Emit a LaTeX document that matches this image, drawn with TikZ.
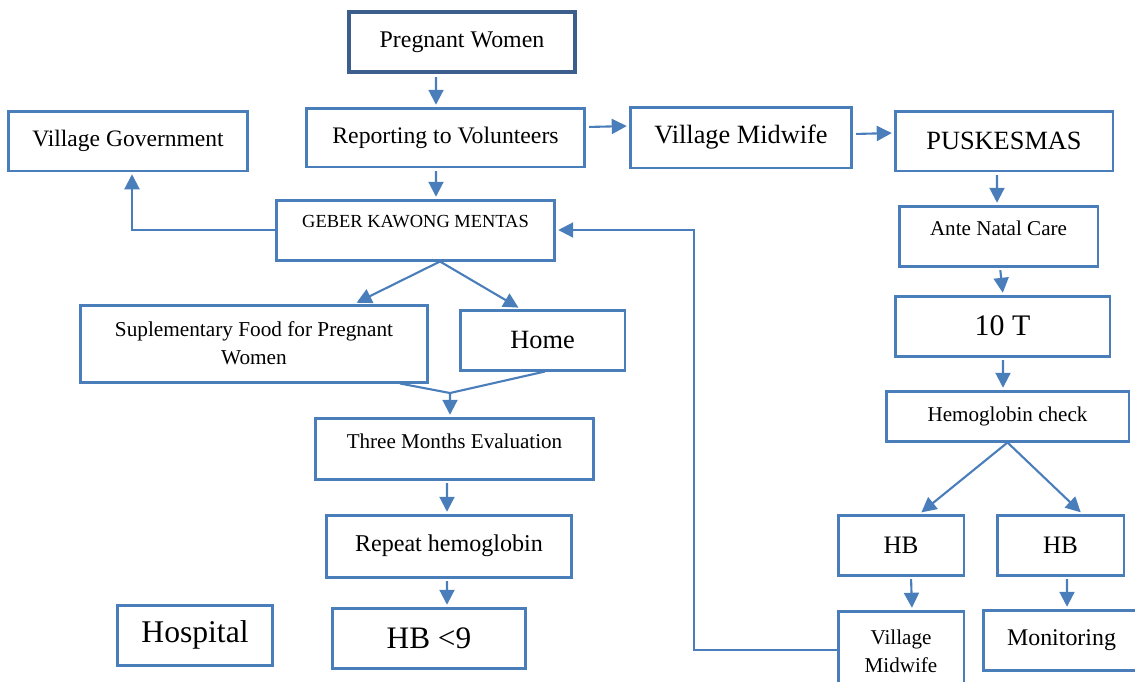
\documentclass[tikz,border=0pt]{standalone}
\usepackage{fontspec}
\setmainfont{Liberation Serif}
\usetikzlibrary{arrows.meta}
\definecolor{boxBlue}{HTML}{4A7EBB}
\definecolor{darkBlue}{HTML}{3B5E8C}

\begin{document}
\begin{tikzpicture}[x=0.02cm, y=-0.02cm]
        \tikzstyle{boxStyle} = [rectangle, draw=boxBlue, fill=white, line width=1.7pt,
                                inner sep=2pt, align=center, text=black]
        \tikzstyle{arrowStyle} = [draw=boxBlue, line width=1.2pt,
                                  -{Triangle[length=0.3cm, width=0.3cm]},
                                  shorten <=1.5pt, shorten >=1pt]
        \useasboundingbox (0,0) rectangle (1135,681);
        % left and middle column
        \node[boxStyle, draw=darkBlue, line width=2.8pt, minimum width=4.52cm, minimum height=1.2cm,
              font=\fontsize{13.6}{16}\selectfont] (preg) at (462,42) {Pregnant Women};
        \node[boxStyle, minimum width=5.58cm, minimum height=1.18cm,
              font=\fontsize{13.5}{16}\selectfont] (report) at (445.5,137.5) {Reporting to Volunteers};
        \node[boxStyle, minimum width=4.8cm, minimum height=1.2cm,
              font=\fontsize{13.4}{16}\selectfont] (vgov) at (128,141) {Village Government};
        \node[boxStyle, minimum width=5.58cm, minimum height=1.2cm, text depth=0.34cm,
              font=\fontsize{10.5}{13}\selectfont] (geber) at (415.5,230) {GEBER KAWONG MENTAS};
        \node[boxStyle, minimum width=6.96cm, minimum height=1.54cm,
              font=\fontsize{12.1}{15.9}\selectfont] (food) at (254,343.5)
              {Suplementary Food for Pregnant\\Women};
        \node[boxStyle, minimum width=3.3cm, minimum height=1.2cm,
              font=\fontsize{15}{18}\selectfont] (home) at (542.5,340) {Home};
        \node[boxStyle, minimum width=5.58cm, minimum height=1.22cm, text depth=0.3cm,
              font=\fontsize{12}{15}\selectfont] (eval) at (454.5,448.5) {Three Months Evaluation};
        \node[boxStyle, minimum width=4.92cm, minimum height=1.24cm,
              font=\fontsize{13.7}{16}\selectfont] (repeat) at (449,546) {Repeat hemoglobin};
        \node[boxStyle, minimum width=3.12cm, minimum height=1.2cm,
              font=\fontsize{18}{21}\selectfont] (hosp) at (195,635) {Hospital};
        \node[boxStyle, minimum width=3.88cm, minimum height=1.2cm,
              font=\fontsize{17.8}{21}\selectfont] (hbLow) at (429,638) {HB <9};
        % right column
        \node[boxStyle, minimum width=4.44cm, minimum height=1.22cm,
              font=\fontsize{15}{18}\selectfont] (midwife) at (741,137.5) {Village Midwife};
        \node[boxStyle, minimum width=4.36cm, minimum height=1.2cm,
              font=\fontsize{15}{18}\selectfont] (pusk) at (1004,141) {PUSKESMAS};
        \node[boxStyle, minimum width=3.98cm, minimum height=1.2cm, text depth=0.33cm,
              font=\fontsize{12}{15}\selectfont] (anc) at (998.5,236) {Ante Natal Care};
        \node[boxStyle, minimum width=4.3cm, minimum height=1.2cm,
              font=\fontsize{17}{20}\selectfont] (tenT) at (1002.5,326) {10 T};
        \node[boxStyle, minimum width=4.86cm, minimum height=1.0cm,
              font=\fontsize{12}{15}\selectfont] (hbCheck) at (1007.5,416) {Hemoglobin check};
        \node[boxStyle, minimum width=2.52cm, minimum height=1.2cm,
              font=\fontsize{14.3}{17}\selectfont] (hbLeft) at (901,545) {HB};
        \node[boxStyle, minimum width=2.54cm, minimum height=1.2cm,
              font=\fontsize{14.3}{17}\selectfont] (hbRight) at (1060.5,545) {HB};
        \node[boxStyle, minimum width=2.52cm, minimum height=1.6cm,
              font=\fontsize{12}{16}\selectfont] (midwifeTwo) at (901,651) {Village\\Midwife};
        \node[boxStyle, minimum width=3.14cm, minimum height=1.2cm,
              font=\fontsize{13.6}{16}\selectfont] (monit) at (1061.5,640) {Monitoring};
        \coordinate (merge) at (450,393);
        % connectors
        \draw[arrowStyle] ([xshift=-0.52cm]preg.south) -- ([xshift=-0.19cm]report.north);
        \draw[arrowStyle] ([yshift=0.21cm]report.east) -- ([yshift=0.23cm]midwife.west);
        \draw[arrowStyle] ([yshift=0.07cm]midwife.east) -- ([yshift=0.16cm]pusk.west);
        \draw[arrowStyle] ([xshift=-0.19cm]report.south) -- ([xshift=0.41cm]geber.north);
        \draw[arrowStyle, shorten <=0pt] (geber.west) -| ([xshift=0.08cm]vgov.south);
        \draw[arrowStyle, shorten <=0pt] ([yshift=0.02cm]midwifeTwo.west) -- ++(-2.86cm,0) |- (geber.east);
        \draw[arrowStyle, shorten <=0pt] ([xshift=0.49cm]geber.south) -- ([xshift=2.02cm]food.north);
        \draw[arrowStyle, shorten <=0pt] ([xshift=0.49cm]geber.south) -- ([xshift=-0.45cm]home.north);
        \draw[draw=boxBlue, line width=1.2pt] ([xshift=2.92cm]food.south) -- (merge)
             -- ([xshift=0.05cm]home.south);
        \draw[arrowStyle, shorten <=0pt] (merge) -- ([xshift=-0.09cm]eval.north);
        \draw[arrowStyle] ([xshift=-0.15cm]eval.south) -- ([xshift=-0.04cm]repeat.north);
        \draw[arrowStyle] ([xshift=-0.04cm]repeat.south) -- ([xshift=0.36cm]hbLow.north);
        \draw[arrowStyle] ([xshift=-0.14cm]pusk.south) -- ([xshift=-0.03cm]anc.north);
        \draw[arrowStyle] ([xshift=0.03cm]anc.south) -- ([xshift=0.01cm]tenT.north);
        \draw[arrowStyle] ([xshift=0.01cm]tenT.south) -- ([xshift=-0.09cm]hbCheck.north);
        \draw[arrowStyle, shorten <=0pt] (hbCheck.south) -- ([xshift=0.38cm]hbLeft.north);
        \draw[arrowStyle, shorten <=0pt] (hbCheck.south) -- ([xshift=0.43cm]hbRight.north);
        \draw[arrowStyle] ([xshift=0.2cm]hbLeft.south) -- ([xshift=0.22cm]midwifeTwo.north);
        \draw[arrowStyle] ([xshift=0.13cm]hbRight.south) -- ([xshift=0.11cm]monit.north);
\end{tikzpicture}
\end{document}
